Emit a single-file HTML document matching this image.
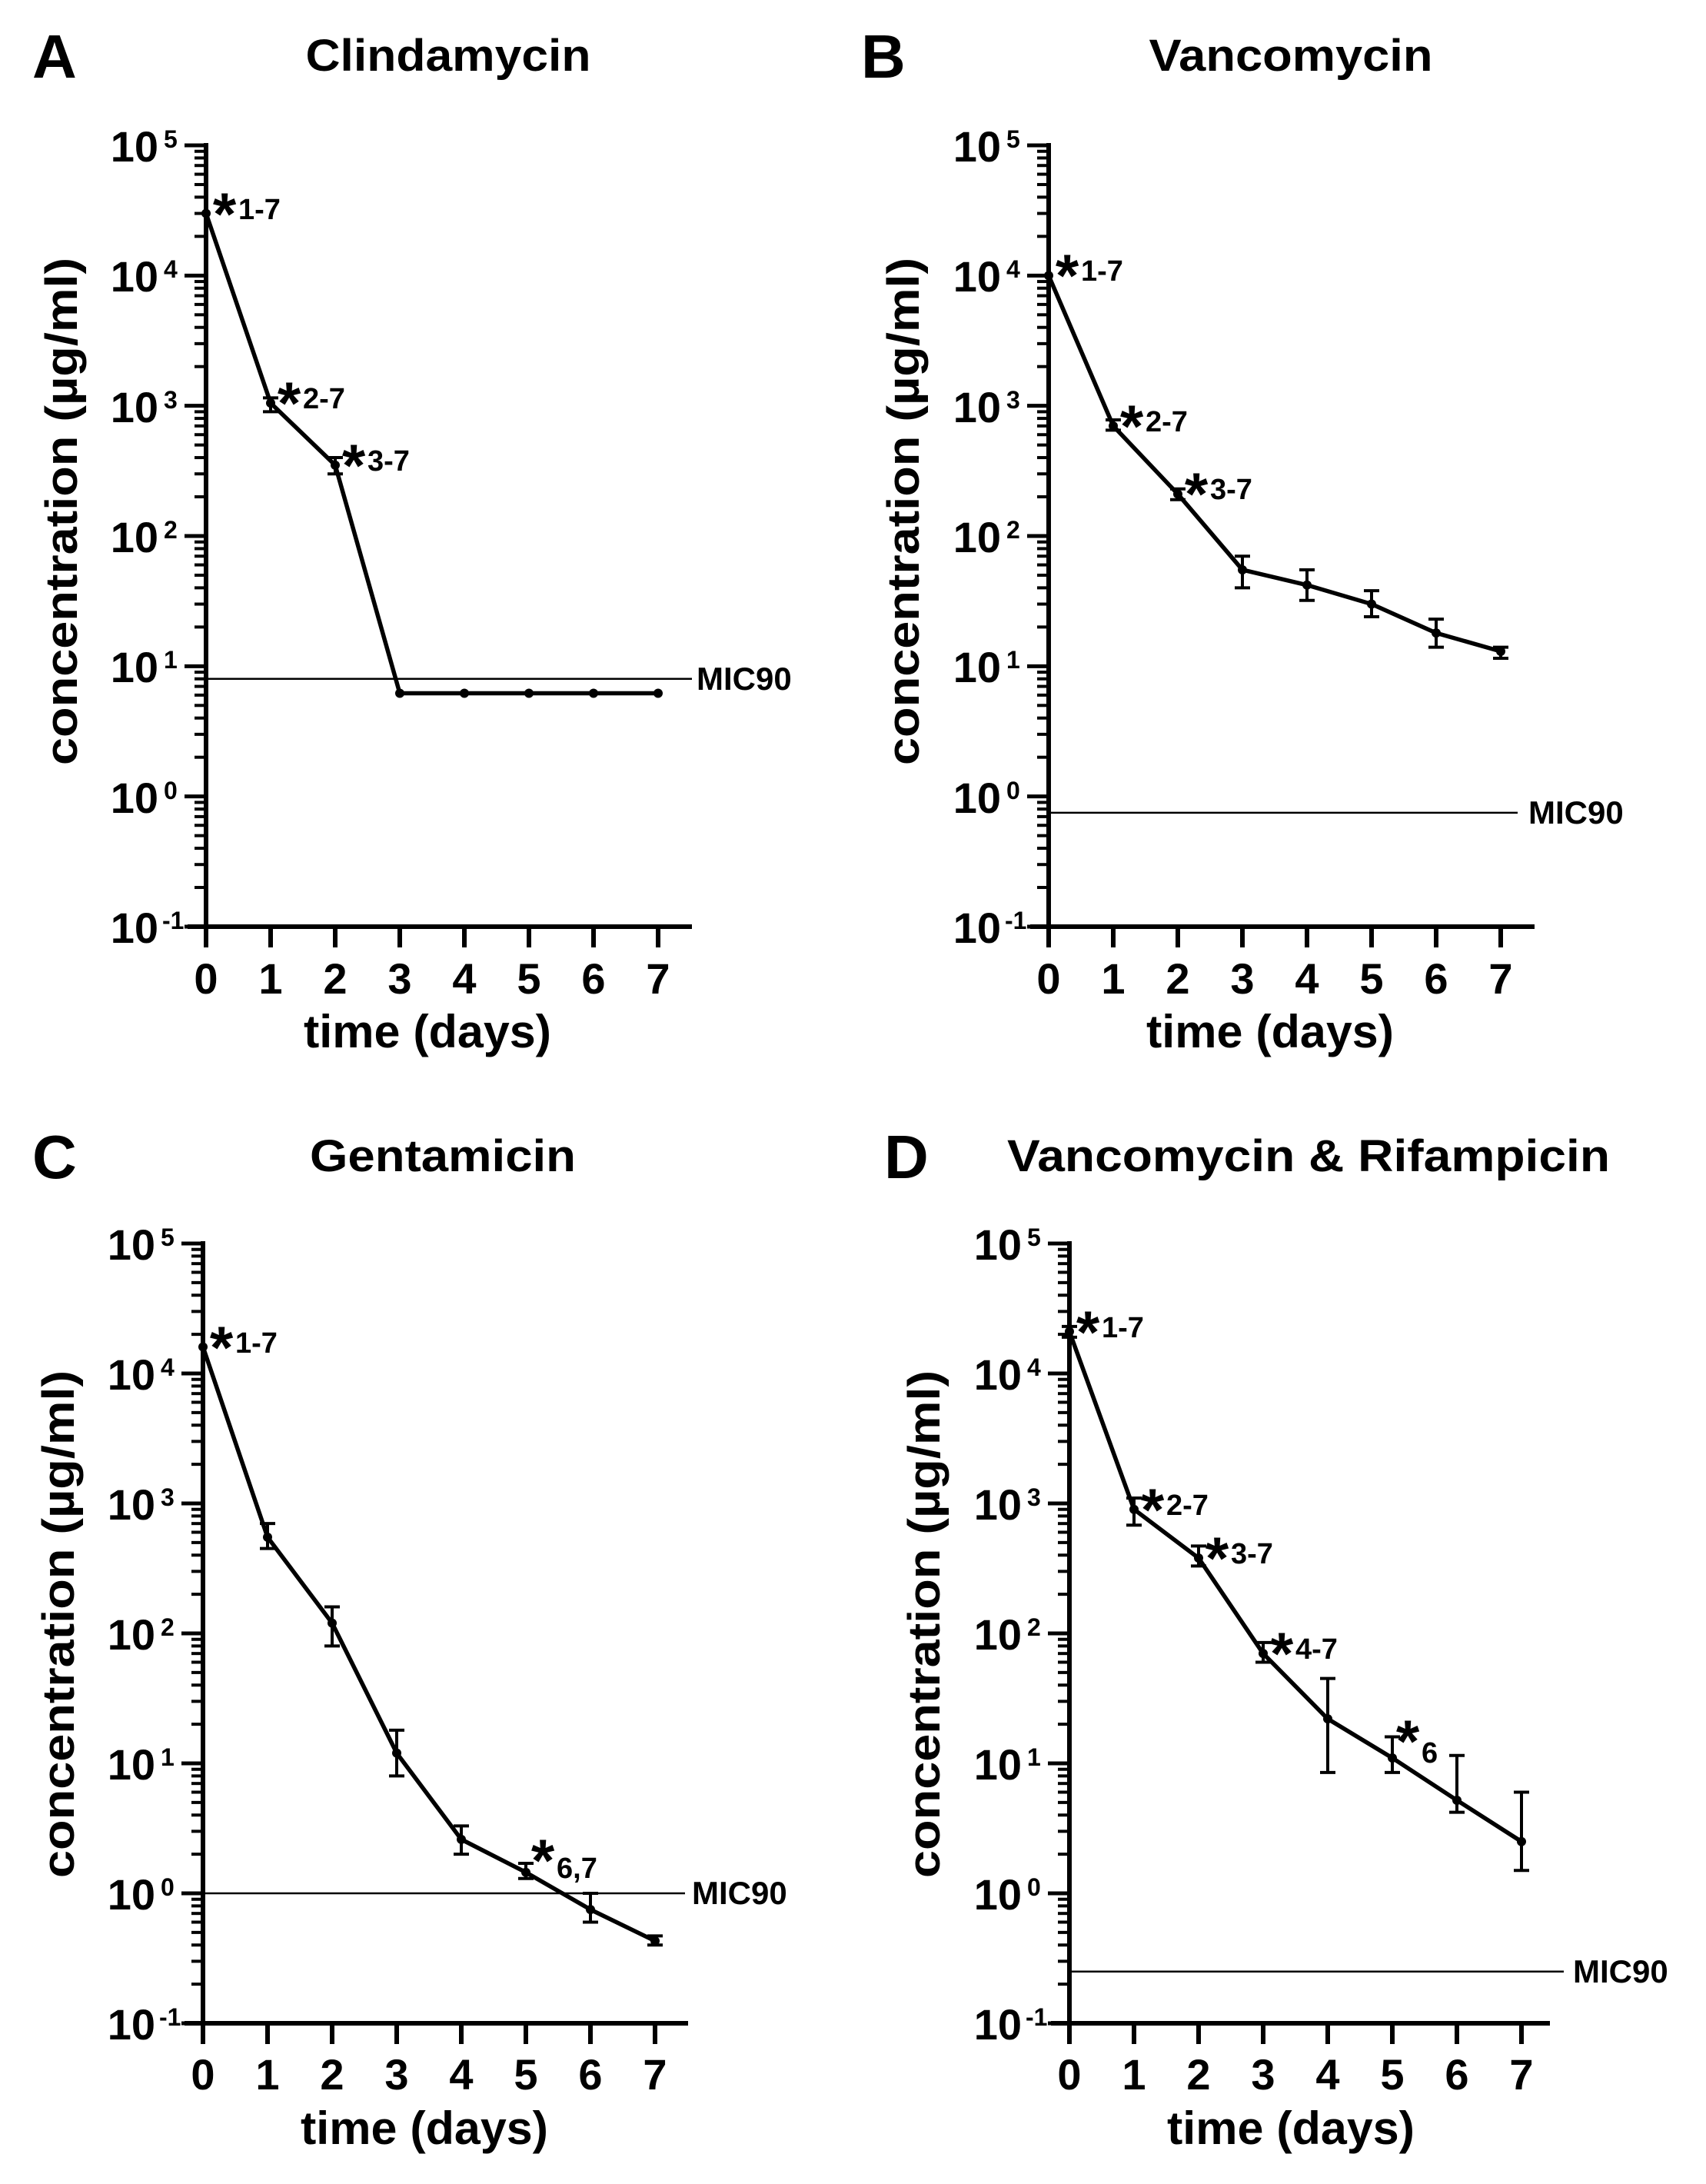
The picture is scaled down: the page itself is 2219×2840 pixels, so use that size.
<!DOCTYPE html>
<html><head><meta charset="utf-8"><style>
html,body{margin:0;padding:0;background:#fff}
svg{display:block}
text{font-family:"Liberation Sans",Arial,sans-serif;font-weight:bold;fill:#000}
</style></head><body>
<svg id="s" width="2219" height="2840" viewBox="0 0 2219 2840" xmlns="http://www.w3.org/2000/svg">
<g id="g"></g>
<text x="42" y="101" font-size="80">A</text>
<text x="583" y="92" font-size="58" text-anchor="middle" textLength="371" lengthAdjust="spacingAndGlyphs">Clindamycin</text>
<text x="1120" y="101" font-size="80">B</text>
<text x="1679" y="92" font-size="58" text-anchor="middle" textLength="369" lengthAdjust="spacingAndGlyphs">Vancomycin</text>
<text x="42" y="1532" font-size="80">C</text>
<text x="576" y="1523" font-size="58" text-anchor="middle" textLength="346" lengthAdjust="spacingAndGlyphs">Gentamicin</text>
<text x="1150" y="1532" font-size="80">D</text>
<text x="1702" y="1523" font-size="58" text-anchor="middle" textLength="784" lengthAdjust="spacingAndGlyphs">Vancomycin &amp; Rifampicin</text>
<text transform="translate(100,665) rotate(-90)" font-size="58" text-anchor="middle" textLength="660" lengthAdjust="spacingAndGlyphs">concentration (µg/ml)</text>
<text transform="translate(1195,665) rotate(-90)" font-size="58" text-anchor="middle" textLength="660" lengthAdjust="spacingAndGlyphs">concentration (µg/ml)</text>
<text transform="translate(96,2112) rotate(-90)" font-size="58" text-anchor="middle" textLength="660" lengthAdjust="spacingAndGlyphs">concentration (µg/ml)</text>
<text transform="translate(1222,2112) rotate(-90)" font-size="58" text-anchor="middle" textLength="660" lengthAdjust="spacingAndGlyphs">concentration (µg/ml)</text>
<text x="556" y="1362" font-size="60" text-anchor="middle" textLength="322" lengthAdjust="spacingAndGlyphs">time (days)</text>
<text x="1652" y="1362" font-size="60" text-anchor="middle" textLength="322" lengthAdjust="spacingAndGlyphs">time (days)</text>
<text x="552" y="2788" font-size="60" text-anchor="middle" textLength="322" lengthAdjust="spacingAndGlyphs">time (days)</text>
<text x="1679" y="2788" font-size="60" text-anchor="middle" textLength="322" lengthAdjust="spacingAndGlyphs">time (days)</text>

<g font-size="56" text-anchor="end">
<text x="206" y="210">10</text><text x="206" y="379">10</text><text x="206" y="549">10</text><text x="206" y="718">10</text><text x="206" y="887">10</text><text x="206" y="1057">10</text><text x="206" y="1226">10</text>
<text x="1302" y="210">10</text><text x="1302" y="379">10</text><text x="1302" y="549">10</text><text x="1302" y="718">10</text><text x="1302" y="887">10</text><text x="1302" y="1057">10</text><text x="1302" y="1226">10</text>
<text x="202" y="1638">10</text><text x="202" y="1807">10</text><text x="202" y="1976">10</text><text x="202" y="2145">10</text><text x="202" y="2314">10</text><text x="202" y="2483">10</text><text x="202" y="2652">10</text>
<text x="1329" y="1638">10</text><text x="1329" y="1807">10</text><text x="1329" y="1976">10</text><text x="1329" y="2145">10</text><text x="1329" y="2314">10</text><text x="1329" y="2483">10</text><text x="1329" y="2652">10</text>
</g>
<g font-size="32">
<text x="213" y="192">5</text><text x="213" y="361">4</text><text x="213" y="531">3</text><text x="213" y="700">2</text><text x="213" y="869">1</text><text x="213" y="1039">0</text><text x="211" y="1208">-1</text>
<text x="1309" y="192">5</text><text x="1309" y="361">4</text><text x="1309" y="531">3</text><text x="1309" y="700">2</text><text x="1309" y="869">1</text><text x="1309" y="1039">0</text><text x="1307" y="1208">-1</text>
<text x="209" y="1620">5</text><text x="209" y="1789">4</text><text x="209" y="1958">3</text><text x="209" y="2127">2</text><text x="209" y="2296">1</text><text x="209" y="2465">0</text><text x="207" y="2634">-1</text>
<text x="1336" y="1620">5</text><text x="1336" y="1789">4</text><text x="1336" y="1958">3</text><text x="1336" y="2127">2</text><text x="1336" y="2296">1</text><text x="1336" y="2465">0</text><text x="1334" y="2634">-1</text>
</g>
<g font-size="56" text-anchor="middle">
<text x="268" y="1292">0</text><text x="352" y="1292">1</text><text x="436" y="1292">2</text><text x="520" y="1292">3</text><text x="604" y="1292">4</text><text x="688" y="1292">5</text><text x="772" y="1292">6</text><text x="856" y="1292">7</text>
<text x="1364" y="1292">0</text><text x="1448" y="1292">1</text><text x="1532" y="1292">2</text><text x="1616" y="1292">3</text><text x="1700" y="1292">4</text><text x="1784" y="1292">5</text><text x="1868" y="1292">6</text><text x="1952" y="1292">7</text>
<text x="264" y="2717">0</text><text x="348" y="2717">1</text><text x="432" y="2717">2</text><text x="516" y="2717">3</text><text x="600" y="2717">4</text><text x="684" y="2717">5</text><text x="768" y="2717">6</text><text x="852" y="2717">7</text>
<text x="1391" y="2717">0</text><text x="1475" y="2717">1</text><text x="1559" y="2717">2</text><text x="1643" y="2717">3</text><text x="1727" y="2717">4</text><text x="1811" y="2717">5</text><text x="1895" y="2717">6</text><text x="1979" y="2717">7</text>
</g>
<g font-size="42">
<text x="906" y="897">MIC90</text>
<text x="1988" y="1071">MIC90</text>
<text x="900" y="2476">MIC90</text>
<text x="2046" y="2578">MIC90</text>
</g>
<g font-size="78" text-anchor="middle">
<text x="292" y="305">*</text><text x="376" y="551">*</text><text x="460" y="632">*</text>
<text x="1388" y="385">*</text><text x="1472" y="581">*</text><text x="1556" y="669">*</text>
<text x="288" y="1779">*</text><text x="706" y="2446">*</text>
<text x="1415" y="1759">*</text><text x="1499" y="1990">*</text><text x="1583" y="2053">*</text><text x="1667" y="2177">*</text><text x="1831" y="2291">*</text>
</g>
<g font-size="38">
<text x="310" y="285">1-7</text><text x="394" y="531">2-7</text><text x="478" y="612">3-7</text>
<text x="1406" y="365">1-7</text><text x="1490" y="561">2-7</text><text x="1574" y="649">3-7</text>
<text x="306" y="1759">1-7</text><text x="724" y="2442">6,7</text>
<text x="1433" y="1739">1-7</text><text x="1517" y="1970">2-7</text><text x="1601" y="2033">3-7</text><text x="1685" y="2157">4-7</text><text x="1849" y="2292">6</text>
</g>
</svg>
<script>
var NS="http://www.w3.org/2000/svg",g=document.getElementById("g");
function el(n,a){var e=document.createElementNS(NS,n);for(var k in a)e.setAttribute(k,a[k]);g.appendChild(e);return e;}
function line(x1,y1,x2,y2,w){el("line",{x1:x1,y1:y1,x2:x2,y2:y2,stroke:"#000","stroke-width":w});}
var panels=[
 {x0:268,top:189,bot:1205,xe:900,mic:8,micEnd:900,
  d:[[3e4],[1050,900,1150],[350,300,400],[6.2],[6.2],[6.2],[6.2],[6.2]]},
 {x0:1364,top:189,bot:1205,xe:1996,mic:0.75,micEnd:1974,
  d:[[1e4],[700,650,780],[210,190,230],[55,40,70],[42,32,55],[30,24,38],[18,14,23],[13,11.5,14]]},
 {x0:264,top:1617,bot:2631,xe:895,mic:1,micEnd:891,
  d:[[1.6e4],[550,450,700],[120,80,160],[12,8,18],[2.6,2,3.3],[1.45,1.3,1.7],[0.75,0.6,1.0],[0.43,0.4,0.47]]},
 {x0:1391,top:1617,bot:2631,xe:2016,mic:0.25,micEnd:2034,
  d:[[2.1e4,19000,23000],[900,680,1100],[380,330,470],[70,60,85],[22,8.5,45],[11,8.5,16],[5.2,4.2,11.5],[2.5,1.5,6]]}
];
panels.forEach(function(p){
 var dec=(p.bot-p.top)/6;
 function Y(v){return p.top+(5-Math.log10(v))*dec;}
 function X(i){return p.x0+i*84;}
 line(p.x0,p.top-3,p.x0,p.bot+3,6);
 line(p.x0-24,p.bot,p.xe,p.bot,6);
 for(var k=-1;k<=5;k++){
  line(p.x0-28,Y(Math.pow(10,k)),p.x0,Y(Math.pow(10,k)),5);
  if(k<5)for(var m=2;m<=9;m++){var yy=Y(m*Math.pow(10,k));line(p.x0-15,yy,p.x0,yy,4);}
 }
 for(var i=0;i<8;i++)line(X(i),p.bot,X(i),p.bot+27,6);
 line(p.x0,Y(p.mic),p.micEnd,Y(p.mic),2.5);
 var pts=p.d.map(function(d,i){return X(i)+","+Y(d[0]);}).join(" ");
 el("polyline",{points:pts,fill:"none",stroke:"#000","stroke-width":5.5,"stroke-linejoin":"round"});
 p.d.forEach(function(d,i){
  var x=X(i);
  if(d.length>1){
   line(x,Y(d[1]),x,Y(d[2]),4);
   line(x-10,Y(d[1]),x+10,Y(d[1]),4);
   line(x-10,Y(d[2]),x+10,Y(d[2]),4);
  }
  el("circle",{cx:x,cy:Y(d[0]),r:6,fill:"#000"});
 });
});
</script>
</body></html>
